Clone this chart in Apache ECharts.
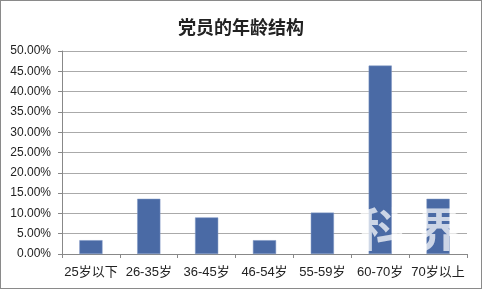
<!DOCTYPE html>
<html><head><meta charset="utf-8">
<script src="https://cdn.jsdelivr.net/npm/echarts@6/dist/echarts.min.js"></script>
<style>html,body{margin:0;padding:0;background:#fff}#c{width:482px;height:289px;box-sizing:border-box;border:1px solid #8a8a8a}</style>
</head><body><div id="c"></div>
<script>
const title = '党员的年龄结构';
const categories = ['25岁以下','26-35岁','36-45岁','46-54岁','55-59岁','60-70岁','70岁以上'];
const values = [3.4, 13.6, 9.0, 3.4, 10.2, 46.4, 13.6];
const yTicks = [0, 5, 10, 15, 20, 25, 30, 35, 40, 45, 50];

const chart = echarts.init(document.getElementById('c'), null, {renderer:'canvas'});
const font = '"Liberation Sans", "Noto Sans CJK SC", sans-serif';
chart.setOption({
  animation:false,
  backgroundColor:'#fff',
  title:{text:title,left:'center',top:12,textStyle:{fontFamily:'"Noto Sans CJK SC", sans-serif',fontSize:18,fontWeight:'bold',color:'#222'}},
  grid:{left:61,right:14,top:50,bottom:34},
  xAxis:{type:'category',data:categories,
    axisLine:{lineStyle:{color:'#888',width:1}},
    axisTick:{show:true,length:4,lineStyle:{color:'#888'}},
    axisLabel:{color:'#222',fontSize:13,fontFamily:font,margin:12,interval:0}},
  yAxis:{type:'value',min:yTicks[0],max:yTicks[yTicks.length-1],interval:5,
    axisLine:{show:true,lineStyle:{color:'#888'}},
    axisTick:{show:true,length:4,lineStyle:{color:'#888'}},
    splitLine:{lineStyle:{color:'#aaaaaa',width:1}},
    axisLabel:{color:'#222',fontSize:12,fontFamily:font,margin:11,formatter:v=>v.toFixed(2)+'%'}},
  series:[{type:'bar',data:values,barWidth:'40%',
    itemStyle:{color:'#4a6aa5',borderColor:'#7f97c4',borderWidth:0.5},z:2}],
  graphic:[
    {type:'text',left:357,top:205,z:100,style:{text:'科',fontSize:46,fontWeight:'bold',fontFamily:'"Noto Sans CJK SC", sans-serif',fill:'rgba(255,255,255,0.72)'}},
    {type:'text',left:415,top:205,z:100,style:{text:'界',fontSize:46,fontWeight:'bold',fontFamily:'"Noto Sans CJK SC", sans-serif',fill:'rgba(255,255,255,0.72)'}}
  ]
});
</script></body></html>
